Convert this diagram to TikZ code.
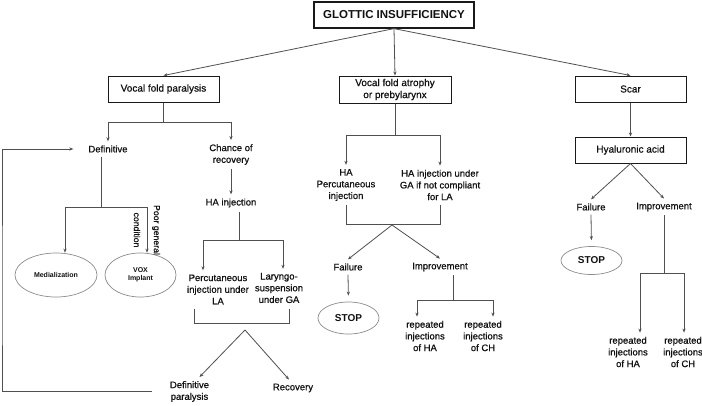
\documentclass[tikz,border=0pt]{standalone}
\usepackage{fontspec}
\setmainfont{Liberation Sans}[UprightFeatures={FakeBold=0.7}]
\usetikzlibrary{arrows.meta,shapes.geometric}
\definecolor{lncol}{HTML}{505050}
\definecolor{txcol}{HTML}{111111}
\definecolor{elcol}{HTML}{8C8C8C}
\begin{document}
\begin{tikzpicture}[x=1pt,y=-1pt,
  box/.style={draw=black!90, line width=1pt, fill=white, text=txcol,
    font=\fontsize{10}{12}\selectfont, align=center, inner sep=0pt,
    minimum width=111pt, minimum height=26pt},
  lbl/.style={text=txcol, font=\fontsize{9.5}{11.7}\selectfont, align=center,
    inner xsep=1pt, inner ysep=4pt},
  oval/.style={ellipse, draw=elcol, line width=0.7pt, text=txcol, align=center,
    inner sep=0pt, font=\bfseries\fontsize{7}{8.5}\selectfont},
  arr/.style={draw=lncol, line width=0.8pt, -{Stealth[length=4pt,width=3.2pt]}},
  lnk/.style={draw=lncol, line width=0.8pt}]
\fill[white] (0,0) rectangle (702,405);
\useasboundingbox (0,0) rectangle (702,405);

% boxes
\node[box, line width=1.2pt, minimum width=160pt, font=\bfseries\fontsize{11.5}{13}\selectfont] (top) at (394,15) {GLOTTIC INSUFFICIENCY};
\node[box] (vfp) at (163.5,89) {Vocal fold paralysis};
\node[box, minimum width=112pt, minimum height=27pt] (atr) at (395,89.5) {Vocal fold atrophy\\or prebylarynx};
\node[box] (scar) at (630.5,89) {Scar};
\node[box] (hya) at (630.5,150) {Hyaluronic acid};

% left column
\node[lbl] (def) at (108,149) {Definitive};
\node[lbl] (chance) at (231,154.5) {Chance of\\recovery};
\node[lbl] (hainj) at (231,203) {HA injection};
\node[lbl] (perc) at (218,289.5) {Percutaneous\\injection under\\LA};
\node[lbl] (lar) at (279,288) {Laryngo-\\suspension\\under GA};
\node[lbl] (defpar) at (189.5,391.5) {Definitive\\paralysis};
\node[lbl] (rec) at (293,388) {Recovery};
\node[oval, minimum width=82pt, minimum height=44pt] (med) at (56,275) {Medialization};
\node[oval, minimum width=71pt, minimum height=44pt] (vox) at (140.5,275) {VOX\\Implant};
\node[lbl, inner sep=0pt, rotate=-90, font=\fontsize{8.7}{20}\selectfont] (poor) at (147,230) {Poor general\\condition};

% middle column
\node[lbl] (hap) at (346,185) {HA\\Percutaneous\\injection};
\node[lbl] (haga) at (440,185) {HA injection under\\GA if not compliant\\for LA};
\node[lbl] (fail2) at (348,267) {Failure};
\node[lbl] (imp2) at (440,267) {Improvement};
\node[oval, minimum width=61pt, minimum height=32pt, font=\bfseries\fontsize{10}{12}\selectfont] (stop2) at (348.5,318) {STOP};
\node[lbl] (rep2a) at (425,336) {repeated\\injections\\of HA};
\node[lbl] (rep2b) at (483,336) {repeated\\injections\\of CH};

% right column
\node[lbl] (fail3) at (591,207) {Failure};
\node[lbl] (imp3) at (664,207) {Improvement};
\node[oval, minimum width=61pt, minimum height=28pt, font=\bfseries\fontsize{10}{12}\selectfont] (stop3) at (591.5,260.5) {STOP};
\node[lbl] (rep3a) at (628,352) {repeated\\injections\\of HA};
\node[lbl] (rep3b) at (683,352) {repeated\\injections\\of CH};

% junction coordinates
\coordinate (j1) at (163.5,122);
\coordinate (j2) at (101,207);
\coordinate (j3) at (239,240);
\coordinate (b1l) at (194,323);
\coordinate (b1r) at (289,323);
\coordinate (ap1) at (245,330);
\coordinate (lx) at (2,300);
\coordinate (j4) at (395,135);
\coordinate (b2l) at (346,224);
\coordinate (b2r) at (440,224);
\coordinate (ap2) at (392,225);
\coordinate (j5) at (453,300);
\coordinate (j6) at (664,273);

% top level
\draw[arr] (top.south) -- (vfp.north);
\draw[arr] (top.south) -- (atr.north);
\draw[arr] (top.south) -- (scar.north);

% left
\draw[lnk] (vfp.south) -- (j1);
\draw[arr] (j1) -| (def.north);
\draw[arr] (j1) -| (chance.north);
\draw[arr] (chance.south) -- (hainj.north);
\draw[lnk] (def.south -| j2) -- (j2);
\draw[arr] (j2) -| ([xshift=9pt]med.north);
\draw[arr] (j2) -| ([xshift=6.5pt]vox.north);
\draw[lnk] (hainj.south -| j3) -- (j3);
\draw[arr] (j3) -| ([xshift=-15pt]perc.north);
\draw[arr] (j3) -| ([xshift=4pt]lar.north);
\draw[lnk] (b1l |- perc.south) -- (b1l) -- (b1r) -- (b1r |- perc.south);
\draw[arr] (ap1) -- ([xshift=10pt]defpar.north);
\draw[arr] (ap1) -- ([xshift=-4pt]rec.north);
\draw[arr] ([xshift=-17pt]defpar.west) -| (lx) |- ([xshift=-14pt]def.west);

% middle
\draw[lnk] (atr.south) -- (j4);
\draw[arr] (j4) -| (hap.north);
\draw[arr] (j4) -| (haga.north);
\draw[lnk] (hap.south) -- (b2l) -- (b2r) -- (b2r |- hap.south);
\draw[arr] (ap2) -- (fail2.north);
\draw[arr] (ap2) -- (imp2.north);
\draw[arr, shorten >=6pt] (fail2.south) -- (stop2.north);
\draw[lnk] (imp2.south -| j5) -- (j5);
\draw[arr] (j5) -| ([xshift=-8pt]rep2a.north);
\draw[arr] (j5) -| ([xshift=10pt]rep2b.north);

% right
\draw[arr] (scar.south) -- (hya.north);
\draw[arr] (hya.south) -- (fail3.north);
\draw[arr] (hya.south) -- (imp3.north);
\draw[arr, shorten >=6pt] (fail3.south) -- (stop3.north);
\draw[lnk] (imp3.south) -- (j6);
\draw[arr] (j6) -| ([xshift=12pt]rep3a.north);
\draw[arr] (j6) -| ([xshift=1pt]rep3b.north);
\end{tikzpicture}
\end{document}
